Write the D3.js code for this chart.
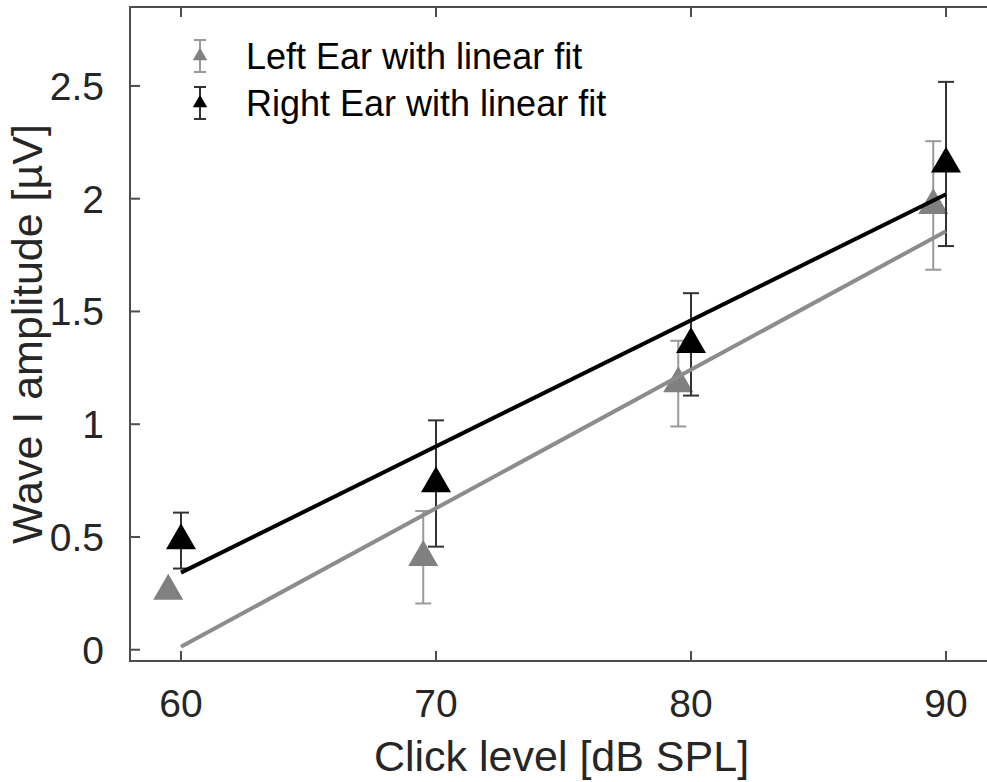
<!DOCTYPE html>
<html>
<head>
<meta charset="utf-8">
<script src="https://cdn.jsdelivr.net/npm/d3@7"></script>
<style>
  body { margin: 0; background: white; }
</style>
</head>
<body>
<div id="chart"></div>
<script>
// Wave I amplitude vs click level, left/right ear with linear fits

const levels = [60, 70, 80, 90];
// left ear markers are drawn slightly to the left of the tick
const leftOffset = -0.5;
const leftMeans = [0.26, 0.41, 1.18, 1.97];
const leftErrs = [0, 0.205, 0.19, 0.285];
const rightMeans = [0.484, 0.737, 1.354, 2.154];
const rightErrs = [0.124, 0.28, 0.227, 0.364];

// fitted line endpoints (at 60 and 90 dB)
const fitX = [60, 90];
const leftFit = [0.013, 1.856];
const rightFit = [0.342, 2.02];

const xTicks = [60, 70, 80, 90];
const yTicks = [0, 0.5, 1, 1.5, 2, 2.5];

const legendLabels = ["Left Ear with linear fit", "Right Ear with linear fit"];

const width = 987;
const height = 782;
const margin = { top: 7, right: -10, bottom: 121, left: 130 };

const colours = {
  axis: "#4d4d4d",
  text: "#262626",
  leftMark: "#808080",
  leftBar: "#999999",
  leftLine: "#8c8c8c",
  rightMark: "#000000",
  rightBar: "#333333",
  rightLine: "#000000",
};

const font = "Liberation Sans, Arial, sans-serif";

let svg = d3
  .select("#chart")
  .append("svg")
  .attr("width", width)
  .attr("height", height)
  .style("display", "block");

const x = d3.scaleLinear().domain([58, 92]).range([margin.left, width - margin.right]);
const y = d3.scaleLinear().domain([-0.05, 2.85]).range([height - margin.bottom, margin.top]);

const x0 = x.range()[0], x1 = x.range()[1];
const y0 = y.range()[0], y1 = y.range()[1];

// box
svg
  .append("rect")
  .attr("x", x0)
  .attr("y", y1)
  .attr("width", x1 - x0)
  .attr("height", y0 - y1)
  .attr("fill", "none")
  .attr("stroke", colours.axis)
  .attr("stroke-width", 2);

const tickLen = 10;

// x ticks, bottom and top, pointing inward
xTicks.forEach((t) => {
  svg.append("line")
    .attr("x1", x(t)).attr("x2", x(t))
    .attr("y1", y0).attr("y2", y0 - tickLen)
    .attr("stroke", colours.axis).attr("stroke-width", 2);
  svg.append("line")
    .attr("x1", x(t)).attr("x2", x(t))
    .attr("y1", y1).attr("y2", y1 + tickLen)
    .attr("stroke", colours.axis).attr("stroke-width", 2);
});

// y ticks, left and right
yTicks.forEach((t) => {
  svg.append("line")
    .attr("x1", x0).attr("x2", x0 + tickLen)
    .attr("y1", y(t)).attr("y2", y(t))
    .attr("stroke", colours.axis).attr("stroke-width", 2);
  svg.append("line")
    .attr("x1", x1).attr("x2", x1 - tickLen)
    .attr("y1", y(t)).attr("y2", y(t))
    .attr("stroke", colours.axis).attr("stroke-width", 2);
});

// tick labels
svg
  .selectAll(".xlab")
  .data(xTicks)
  .enter()
  .append("text")
  .attr("x", (d) => x(d))
  .attr("y", y0 + 56)
  .attr("text-anchor", "middle")
  .style("font-family", font)
  .style("font-size", "39px")
  .style("fill", colours.text)
  .text((d) => d);

svg
  .selectAll(".ylab")
  .data(yTicks)
  .enter()
  .append("text")
  .attr("x", x0 - 26)
  .attr("y", (d) => y(d))
  .attr("dy", "0.36em")
  .attr("text-anchor", "end")
  .style("font-family", font)
  .style("font-size", "39px")
  .style("fill", colours.text)
  .text((d) => d);

// axis titles
svg
  .append("text")
  .attr("x", (x0 + x1) / 2 - 2)
  .attr("y", height - 11)
  .attr("text-anchor", "middle")
  .style("font-family", font)
  .style("font-size", "43px")
  .style("fill", colours.text)
  .text("Click level [dB SPL]");

svg
  .append("text")
  .attr("transform", `translate(42, ${(y0 + y1) / 2}) rotate(-90)`)
  .attr("text-anchor", "middle")
  .style("font-family", font)
  .style("font-size", "43px")
  .style("fill", colours.text)
  .text("Wave I amplitude [\u00b5V]");

const capHalf = 8;
const triangle = d3.symbol().type(d3.symbolTriangle).size(390);

const drawErrorBars = function (xs, means, errs, colour) {
  const g = svg.append("g");
  means.forEach((m, i) => {
    if (!errs[i]) return;
    const cx = x(xs[i]);
    const top = y(m + errs[i]);
    const bot = y(m - errs[i]);
    g.append("line")
      .attr("x1", cx).attr("x2", cx)
      .attr("y1", top).attr("y2", bot)
      .attr("stroke", colour).attr("stroke-width", 2);
    [top, bot].forEach((yy) => {
      g.append("line")
        .attr("x1", cx - capHalf).attr("x2", cx + capHalf)
        .attr("y1", yy).attr("y2", yy)
        .attr("stroke", colour).attr("stroke-width", 2);
    });
  });
};

const drawMarkers = function (xs, means, colour) {
  svg
    .append("g")
    .selectAll("path")
    .data(means)
    .enter()
    .append("path")
    .attr("d", triangle)
    .attr("transform", (d, i) => `translate(${x(xs[i])}, ${y(d)})`)
    .attr("fill", colour);
};

const leftX = levels.map((l) => l + leftOffset);

drawErrorBars(leftX, leftMeans, leftErrs, colours.leftBar);
drawMarkers(leftX, leftMeans, colours.leftMark);
drawErrorBars(levels, rightMeans, rightErrs, colours.rightBar);
drawMarkers(levels, rightMeans, colours.rightMark);

// linear fits
const fitLine = d3
  .line()
  .x((d) => x(d[0]))
  .y((d) => y(d[1]));

svg
  .append("path")
  .attr("d", fitLine(fitX.map((v, i) => [v, leftFit[i]])))
  .attr("fill", "none")
  .attr("stroke", colours.leftLine)
  .attr("stroke-width", 4);

svg
  .append("path")
  .attr("d", fitLine(fitX.map((v, i) => [v, rightFit[i]])))
  .attr("fill", "none")
  .attr("stroke", colours.rightLine)
  .attr("stroke-width", 4);

// legend
const legendMarker = d3.symbol().type(d3.symbolTriangle).size(90);
const legendRows = [
  { label: legendLabels[0], bar: colours.leftBar, mark: colours.leftMark, cy: 56 },
  { label: legendLabels[1], bar: colours.rightBar, mark: colours.rightMark, cy: 103 },
];

legendRows.forEach((r) => {
  const g = svg.append("g");
  const lx = 200;
  g.append("line")
    .attr("x1", lx).attr("x2", lx)
    .attr("y1", r.cy - 16).attr("y2", r.cy + 16)
    .attr("stroke", r.bar).attr("stroke-width", 2);
  [r.cy - 16, r.cy + 16].forEach((yy) => {
    g.append("line")
      .attr("x1", lx - 6).attr("x2", lx + 6)
      .attr("y1", yy).attr("y2", yy)
      .attr("stroke", r.bar).attr("stroke-width", 2);
  });
  g.append("path")
    .attr("d", legendMarker)
    .attr("transform", `translate(${lx}, ${r.cy})`)
    .attr("fill", r.mark);
  g.append("text")
    .attr("x", 246)
    .attr("y", r.cy)
    .attr("dy", "0.36em")
    .style("font-family", font)
    .style("font-size", "36px")
    .style("fill", "#000")
    .text(r.label);
});
</script>
</body>
</html>
